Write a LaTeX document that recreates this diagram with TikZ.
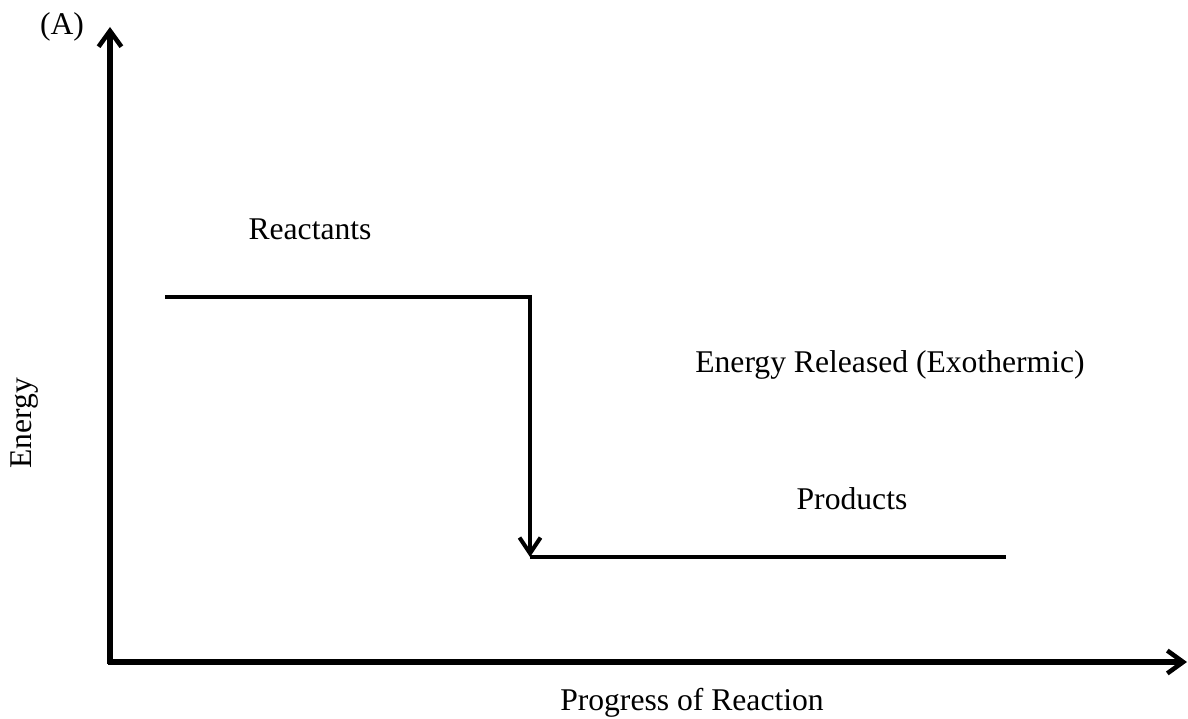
\documentclass[tikz,border=0pt]{standalone}
\usepackage{fontspec}
\setmainfont{Liberation Serif}
\usetikzlibrary{arrows.meta,positioning}

\begin{document}
\begin{tikzpicture}[
    x=0.02cm, y=-0.02cm,
    axis/.style={line width=3pt, -{Straight Barb[length=9pt, width=13pt, line width=2.6pt]}},
    level/.style={line width=2.5pt},
    drop/.style={line width=2.5pt, -{Straight Barb[length=9pt, width=12pt, line width=2.3pt]}},
    label/.style={font=\fontsize{18}{22}\selectfont, inner sep=0pt}]

    \useasboundingbox (0,0) rectangle (1188,719);

    % Axes
    \coordinate (Ybot) at (110,664);
    \coordinate (Ytop) at (110,27);
    \coordinate (Xbeg) at (108,662);
    \coordinate (Xend) at (1187,662);
    \draw[axis] (Ybot) -- (Ytop);
    \draw[axis] (Xbeg) -- (Xend);
    \node[label] (A) at (62,27) {(A)};
    \node[label, rotate=90] (Ylab) at (25,423) {Energy};
    \node[label] (Xlab) at (692,703) {Progress of Reaction};

    % Energy levels
    \coordinate (R1) at (165,297);
    \coordinate (R2) at (530,297);
    \coordinate (P1) at (530,557);
    \coordinate (P2) at (1006,557);
    \draw[level] (R1) -- ([xshift=1.2pt]R2);
    \draw[level] (P1) -- (P2);
    \draw[drop] ([yshift=1.2pt]R2) -- (P1);

    \node[label] (react) at (310,229) {Reactants};
    \node[label] (release) at (890,365) {Energy Released (Exothermic)};
    \node[label] (prod) at (852,499) {Products};
\end{tikzpicture}
\end{document}
